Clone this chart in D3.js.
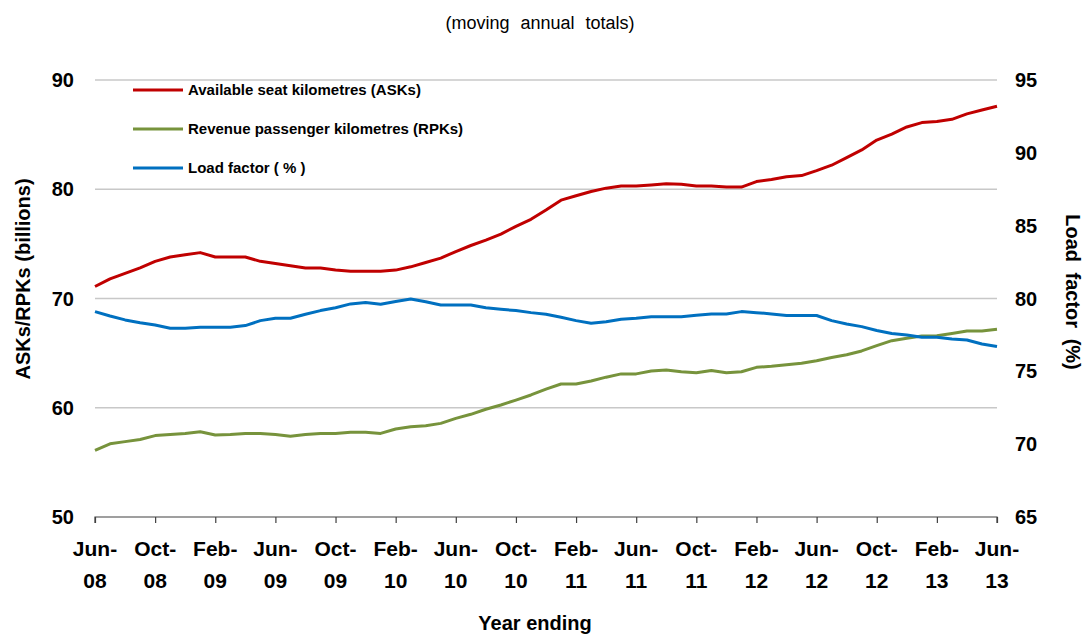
<!DOCTYPE html>
<html>
<head>
<meta charset="utf-8">
<script src="https://cdn.jsdelivr.net/npm/d3@7"></script>
<style>
  body { margin: 0; background: #fff; }
  text { font-family: "Liberation Sans", Arial, sans-serif; }
</style>
</head>
<body>
<div id="chart"></div>
<script>
// monthly, Jun-08 .. Jun-13
var startMonth = new Date(2008, 5, 1);
var asks = [71.1, 71.8, 72.3, 72.8, 73.4, 73.8, 74.0, 74.2, 73.8, 73.8,
            73.8, 73.4, 73.2, 73.0, 72.8, 72.8, 72.6, 72.5, 72.5, 72.5,
            72.6, 72.9, 73.3, 73.7, 74.3, 74.85, 75.35, 75.9, 76.6, 77.25,
            78.1, 79.0, 79.4, 79.8, 80.1, 80.3, 80.3, 80.4, 80.5, 80.45,
            80.3, 80.3, 80.2, 80.2, 80.7, 80.9, 81.15, 81.25, 81.7, 82.2,
            82.9, 83.6, 84.5, 85.05, 85.7, 86.1, 86.2, 86.4, 86.9, 87.25, 87.6];
var rpks = [56.1, 56.7, 56.9, 57.1, 57.45, 57.55, 57.65, 57.8, 57.5, 57.55,
            57.65, 57.65, 57.55, 57.4, 57.55, 57.65, 57.65, 57.75, 57.75, 57.65,
            58.05, 58.27, 58.36, 58.57, 59.03, 59.4, 59.86, 60.25, 60.7, 61.17,
            61.7, 62.17, 62.17, 62.45, 62.8, 63.1, 63.1, 63.36, 63.46, 63.3,
            63.2, 63.4, 63.2, 63.3, 63.7, 63.8, 63.94, 64.07, 64.3, 64.6,
            64.85, 65.2, 65.68, 66.14, 66.36, 66.57, 66.6, 66.8, 67.03, 67.03, 67.18];
var loadFactor = [79.1, 78.8, 78.53, 78.34, 78.18, 77.96, 77.96, 78.03, 78.03, 78.03,
                  78.14, 78.48, 78.64, 78.64, 78.92, 79.17, 79.37, 79.63, 79.72, 79.6,
                  79.8, 79.97, 79.78, 79.56, 79.56, 79.56, 79.37, 79.26, 79.17, 79.03,
                  78.92, 78.71, 78.48, 78.3, 78.41, 78.57, 78.64, 78.75, 78.75, 78.75,
                  78.85, 78.94, 78.94, 79.1, 79.03, 78.94, 78.83, 78.83, 78.83, 78.48,
                  78.25, 78.07, 77.8, 77.6, 77.5, 77.34, 77.34, 77.22, 77.15, 76.88, 76.7];
var leftTicks = [50, 60, 70, 80, 90];
var rightTicks = [65, 70, 75, 80, 85, 90, 95];
var monthNames = ["Jan","Feb","Mar","Apr","May","Jun","Jul","Aug","Sep","Oct","Nov","Dec"];
var seriesNames = ["Available seat kilometres (ASKs)", "Revenue passenger kilometres (RPKs)", "Load factor ( % )"];
var seriesColors = ["#C00000", "#77933C", "#0070C0"];

var width = 1086, height = 635;
var margin = { top: 80, right: 89, bottom: 118, left: 95 };
var w = width - margin.left - margin.right;
var h = height - margin.top - margin.bottom;

var svg = d3.select("#chart").append("svg")
    .attr("width", width)
    .attr("height", height);

var g = svg.append("g").attr("transform", "translate(" + margin.left + "," + margin.top + ")");

var dates = asks.map(function (d, i) { return d3.timeMonth.offset(startMonth, i); });

// category-style axis: months evenly spaced
var x = d3.scaleLinear().domain([0, asks.length - 1]).range([0, w]);
var yL = d3.scaleLinear().domain([50, 90]).range([h, 0]);
var yR = d3.scaleLinear().domain([65, 95]).range([h, 0]);

// gridlines
g.selectAll(".grid")
    .data(leftTicks.filter(function (d) { return d > 50; }))
    .enter().append("line")
    .attr("x1", 0).attr("x2", w)
    .attr("y1", function (d) { return yL(d); })
    .attr("y2", function (d) { return yL(d); })
    .attr("stroke", "#c8c8c8").attr("stroke-width", 1.5);

// left axis labels
g.selectAll(".ltick")
    .data(leftTicks)
    .enter().append("text")
    .attr("x", -21)
    .attr("y", function (d) { return yL(d); })
    .attr("dy", "0.35em")
    .attr("text-anchor", "end")
    .style("font-size", "20px").style("font-weight", "bold")
    .text(function (d) { return d; });

// right axis labels
g.selectAll(".rtick")
    .data(rightTicks)
    .enter().append("text")
    .attr("x", w + 18)
    .attr("y", function (d) { return yR(d); })
    .attr("dy", "0.35em")
    .style("font-size", "20px").style("font-weight", "bold")
    .text(function (d) { return d; });

// x axis
var xTicks = d3.range(0, asks.length, 4);
var xAxis = g.append("g")
    .attr("transform", "translate(0," + h + ")")
    .call(d3.axisBottom(x).tickValues(xTicks).tickSize(6).tickFormat(""));
xAxis.select(".domain").attr("stroke", "#404040").attr("stroke-width", 1.2)
    .attr("d", "M0,6V0H" + w + "V6");
xAxis.selectAll(".tick line").attr("stroke", "#404040").attr("stroke-width", 1.2);

var xl = g.selectAll(".xlab")
    .data(xTicks)
    .enter().append("text")
    .attr("text-anchor", "middle")
    .style("font-size", "21px").style("font-weight", "bold");
xl.append("tspan").attr("x", function (i) { return x(i); }).attr("y", h + 39)
    .text(function (i) { return monthNames[dates[i].getMonth()] + "-"; });
xl.append("tspan").attr("x", function (i) { return x(i); }).attr("y", h + 71)
    .text(function (i) { return d3.timeFormat("%y")(dates[i]); });

// lines
var lineL = d3.line().x(function (d, i) { return x(i); }).y(function (d) { return yL(d); });
var lineR = d3.line().x(function (d, i) { return x(i); }).y(function (d) { return yR(d); });

g.append("path").datum(rpks).attr("d", lineL)
    .attr("fill", "none").attr("stroke", seriesColors[1]).attr("stroke-width", 3).attr("stroke-linejoin", "round");
g.append("path").datum(loadFactor).attr("d", lineR)
    .attr("fill", "none").attr("stroke", seriesColors[2]).attr("stroke-width", 3).attr("stroke-linejoin", "round");
g.append("path").datum(asks).attr("d", lineL)
    .attr("fill", "none").attr("stroke", seriesColors[0]).attr("stroke-width", 3).attr("stroke-linejoin", "round");

// legend
var legend = svg.selectAll(".legend")
    .data(seriesNames)
    .enter().append("g")
    .attr("transform", function (d, i) { return "translate(133," + (90 + i * 39) + ")"; });
legend.append("line")
    .attr("x1", 0).attr("x2", 50)
    .attr("stroke", function (d, i) { return seriesColors[i]; })
    .attr("stroke-width", 3);
legend.append("text")
    .attr("x", 55).attr("dy", "0.35em")
    .style("font-size", "15px").style("font-weight", "bold")
    .text(function (d) { return d; });

// titles
svg.append("text")
    .attr("x", 540).attr("y", 29)
    .attr("text-anchor", "middle")
    .style("font-size", "18px").style("word-spacing", "6px")
    .text("(moving annual totals)");

svg.append("text")
    .attr("x", 535).attr("y", 630)
    .attr("text-anchor", "middle")
    .style("font-size", "20px").style("font-weight", "bold")
    .text("Year ending");

svg.append("text")
    .attr("transform", "translate(30,279) rotate(-90)")
    .attr("text-anchor", "middle")
    .style("font-size", "20px").style("font-weight", "bold")
    .text("ASKs/RPKs (billions)");

svg.append("text")
    .attr("transform", "translate(1066,292) rotate(90)")
    .attr("text-anchor", "middle")
    .style("font-size", "20px").style("font-weight", "bold").style("word-spacing", "5px")
    .text("Load factor (%)");
</script>
</body>
</html>
